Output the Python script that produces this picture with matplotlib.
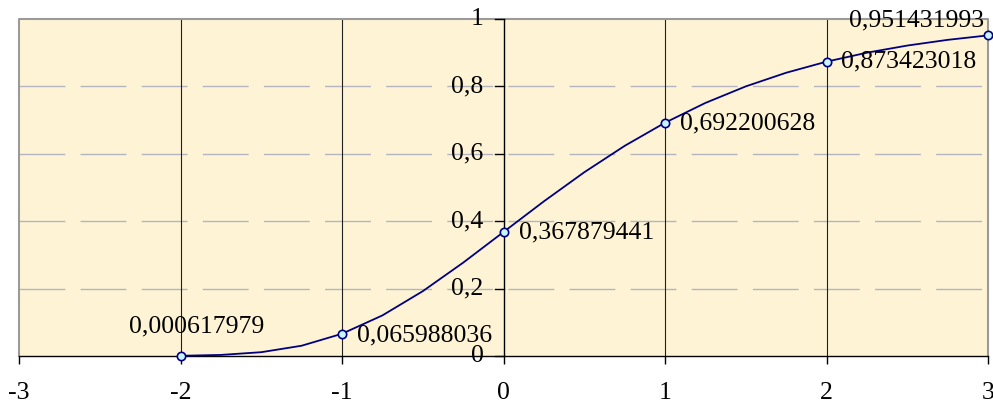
import matplotlib
matplotlib.use("Agg")
import matplotlib.pyplot as plt

# ---- data ----
x_line = [-2.0, -1.75, -1.5, -1.25, -1.0, -0.75, -0.5, -0.25, 0.0, 0.25, 0.5,
          0.75, 1.0, 1.25, 1.5, 1.75, 2.0, 2.25, 2.5, 2.75, 3.0]
y_line = [0.000618, 0.0032, 0.0113, 0.0305, 0.0660, 0.1204, 0.1923, 0.2769,
          0.3679, 0.4589, 0.5452, 0.6235, 0.6922, 0.7509, 0.8000, 0.8405,
          0.8734, 0.9000, 0.9212, 0.9381, 0.9514]
x_points = [-2, -1, 0, 1, 2, 3]
y_points = [0.000617979, 0.065988036, 0.367879441, 0.692200628, 0.873423018, 0.951431993]
x_ticks = [-3, -2, -1, 0, 1, 2, 3]
y_ticks = [0, 0.2, 0.4, 0.6, 0.8, 1.0]
y_tick_labels = ["0", "0,2", "0,4", "0,6", "0,8", "1"]

plt.rcParams['font.family'] = ['Liberation Serif', 'DejaVu Serif']
FS = 18.5

W, H = 993, 403
fig = plt.figure(figsize=(W / 100, H / 100), dpi=100)
fig.patch.set_facecolor('white')
ax = fig.add_axes([19 / W, (H - 356) / H, (988 - 19) / W, (356 - 19) / H])
ax.set_facecolor('#FEF4D5')
ax.set_xlim(-3, 3)
ax.set_ylim(0, 1)

# grid lines
for yv in y_ticks[1:-1]:
    ax.axhline(yv, color='#B4B4C0', lw=1.0, linestyle=(0, (33, 11)), zorder=1)
for xv in x_ticks[1:]:
    if xv != 0:
        ax.axvline(xv, color='#202020', lw=0.8, zorder=1)

# border
for s in ['top', 'right', 'left']:
    ax.spines[s].set_visible(False)
ax.plot([-3, -3, 3, 3], [0, 1, 1, 0], color='#9A9A9A', lw=1.5, zorder=2, clip_on=False)

# axes through zero
ax.spines['bottom'].set_position(('data', 0))
ax.spines['bottom'].set_color('black')
ax.spines['bottom'].set_linewidth(1.0)
ax.axvline(0, color='black', lw=1.0, zorder=2)

ax.set_xticks(x_ticks)
ax.set_xticklabels([str(v) for v in x_ticks])
ax.tick_params(axis='x', direction='out', length=6, width=1, pad=13, labelsize=FS)
ax.set_yticks([])

# y tick marks and labels at x = 0
for yv, lab in zip(y_ticks, y_tick_labels):
    ax.plot([-0.055, 0], [yv, yv], color='black', lw=1.0, zorder=2, clip_on=False)
    ax.annotate(lab, (0, yv), xytext=(-20, 0), textcoords='offset pixels',
                ha='right', va='center', fontsize=FS, zorder=3)

# series
ax.plot(x_line, y_line, color='#000080', lw=1.3, zorder=4, clip_on=False)
ax.plot(x_points, y_points, linestyle='none', marker='o', markersize=6,
        markerfacecolor='#C8F4FF', markeredgecolor='#000080', markeredgewidth=1.2,
        zorder=5, clip_on=False)

# data labels
offsets = [(16, 29, 'center'), (15, -2, 'left'), (15, 0, 'left'),
           (15, -1, 'left'), (15, 0, 'left'), (-4, 15, 'right')]
for xv, yv, (dx, dy, ha) in zip(x_points, y_points, offsets):
    ax.annotate(f"{yv:.9f}".replace('.', ','), (xv, yv), xytext=(dx, dy),
                textcoords='offset pixels', ha=ha, va='center', fontsize=FS, zorder=6)

fig.savefig('out.png', dpi=100)
